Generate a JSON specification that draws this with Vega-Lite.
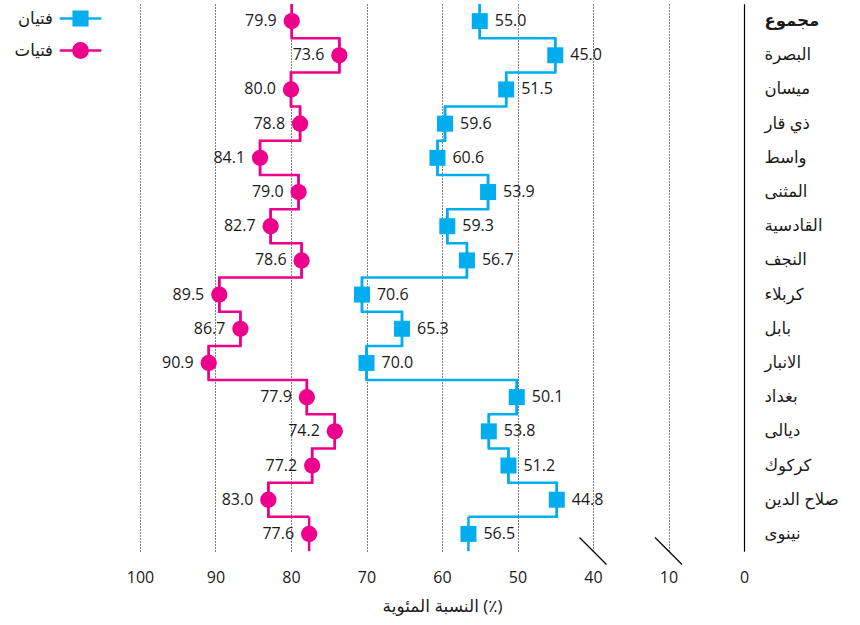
{
  "$schema": "https://vega.github.io/schema/vega-lite/v6.json",
  "width": 604,
  "height": 547,
  "autosize": {"type": "none"},
  "padding": {"left": 140, "top": 4, "right": 116, "bottom": 74},
  "config": {
    "font": "Open Sans, DejaVu Sans",
    "view": {"stroke": null},
    "text": {"font": "Open Sans, DejaVu Sans"}
  },
  "data": {
    "values": [
      {"region": "مجموع", "series": "فتيات", "value": 79.9},
      {"region": "البصرة", "series": "فتيات", "value": 73.6},
      {"region": "ميسان", "series": "فتيات", "value": 80.0},
      {"region": "ذي قار", "series": "فتيات", "value": 78.8},
      {"region": "واسط", "series": "فتيات", "value": 84.1},
      {"region": "المثنى", "series": "فتيات", "value": 79.0},
      {"region": "القادسية", "series": "فتيات", "value": 82.7},
      {"region": "النجف", "series": "فتيات", "value": 78.6},
      {"region": "كربلاء", "series": "فتيات", "value": 89.5},
      {"region": "بابل", "series": "فتيات", "value": 86.7},
      {"region": "الانبار", "series": "فتيات", "value": 90.9},
      {"region": "بغداد", "series": "فتيات", "value": 77.9},
      {"region": "ديالى", "series": "فتيات", "value": 74.2},
      {"region": "كركوك", "series": "فتيات", "value": 77.2},
      {"region": "صلاح الدين", "series": "فتيات", "value": 83.0},
      {"region": "نينوى", "series": "فتيات", "value": 77.6},
      {"region": "مجموع", "series": "فتيان", "value": 55.0},
      {"region": "البصرة", "series": "فتيان", "value": 45.0},
      {"region": "ميسان", "series": "فتيان", "value": 51.5},
      {"region": "ذي قار", "series": "فتيان", "value": 59.6},
      {"region": "واسط", "series": "فتيان", "value": 60.6},
      {"region": "المثنى", "series": "فتيان", "value": 53.9},
      {"region": "القادسية", "series": "فتيان", "value": 59.3},
      {"region": "النجف", "series": "فتيان", "value": 56.7},
      {"region": "كربلاء", "series": "فتيان", "value": 70.6},
      {"region": "بابل", "series": "فتيان", "value": 65.3},
      {"region": "الانبار", "series": "فتيان", "value": 70.0},
      {"region": "بغداد", "series": "فتيان", "value": 50.1},
      {"region": "ديالى", "series": "فتيان", "value": 53.8},
      {"region": "كركوك", "series": "فتيان", "value": 51.2},
      {"region": "صلاح الدين", "series": "فتيان", "value": 44.8},
      {"region": "نينوى", "series": "فتيان", "value": 56.5}
    ]
  },
  "encoding": {
    "y": {
      "field": "region",
      "type": "nominal",
      "sort": null,
      "scale": {
        "type": "band",
        "domain": ["مجموع", "البصرة", "ميسان", "ذي قار", "واسط", "المثنى", "القادسية", "النجف", "كربلاء", "بابل", "الانبار", "بغداد", "ديالى", "كركوك", "صلاح الدين", "نينوى"],
        "paddingInner": 0,
        "paddingOuter": 0
      },
      "axis": {
        "orient": "right",
        "title": null,
        "grid": false,
        "ticks": false,
        "domain": true,
        "domainColor": "#000",
        "domainWidth": 1.2,
        "labelPadding": 20,
        "labelAlign": "left",
        "labelFontSize": 16.5,
        "labelColor": "#1a1a1a",
        "labelFontWeight": {"condition": {"test": "datum.value === 'مجموع'", "value": "bold"}, "value": "normal"}
      }
    },
    "x": {
      "field": "value",
      "type": "quantitative",
      "scale": {"domain": [0, 10, 40, 100], "range": [604, 528.5, 453, 0], "nice": false, "zero": false},
      "axis": {
        "values": [0, 10, 40, 50, 60, 70, 80, 90, 100],
        "grid": true,
        "gridDash": [1, 2],
        "gridColor": "#000",
        "gridWidth": 1,
        "domain": false,
        "ticks": false,
        "labelFlush": false,
        "labelOverlap": false,
        "labelPadding": 18,
        "labelFontSize": 16,
        "labelColor": "#1a1a1a",
        "title": "النسبة المئوية (٪)",
        "titleFontSize": 17,
        "titleFontWeight": "normal",
        "titleColor": "#1a1a1a",
        "titlePadding": 13
      }
    },
    "color": {
      "field": "series",
      "type": "nominal",
      "scale": {"domain": ["فتيان", "فتيات"], "range": ["#00aeef", "#ec008c"]},
      "legend": {
        "orient": "none",
        "legendX": -69,
        "legendY": 5,
        "title": null,
        "padding": 0,
        "symbolSize": 256,
        "symbolStrokeWidth": 2.5,
        "symbolOpacity": 1,
        "labelAlign": "right",
        "labelOffset": -37,
        "labelFontSize": 16.5,
        "labelColor": "#1a1a1a",
        "rowPadding": 7,
        "encode": {
          "symbols": {
            "update": {
              "shape": {"signal": "datum.value === 'فتيان' ? 'M-2.6,0H2.6M-0.85,-0.85H0.85V0.85H-0.85Z' : 'M-2.6,0H2.6M0.9,0A0.9,0.9,0,1,1,-0.9,0A0.9,0.9,0,1,1,0.9,0Z'"},
              "fill": {"signal": "datum.value === 'فتيان' ? '#00aeef' : '#ec008c'"},
              "stroke": {"signal": "datum.value === 'فتيان' ? '#00aeef' : '#ec008c'"},
              "strokeWidth": {"value": 2.5}
            }
          }
        }
      }
    }
  },
  "layer": [
    {
      "mark": {"type": "line", "interpolate": "step-before", "strokeWidth": 2.5},
      "encoding": {
        "y": {"field": "region", "type": "nominal", "sort": null, "bandPosition": 0}
      }
    },
    {
      "mark": {"type": "tick", "orient": "vertical", "thickness": 2.5, "size": 34.4, "opacity": 1}
    },
    {
      "transform": [{"filter": "datum.series === 'فتيان'"}],
      "mark": {"type": "point", "shape": "square", "filled": true, "size": 256, "opacity": 1}
    },
    {
      "transform": [{"filter": "datum.series === 'فتيات'"}],
      "mark": {"type": "point", "shape": "circle", "filled": true, "size": 265, "opacity": 1}
    },
    {
      "transform": [{"filter": "datum.series === 'فتيات'"}],
      "mark": {"type": "text", "align": "right", "baseline": "middle", "dx": -15, "fontSize": 16},
      "encoding": {
        "text": {"field": "value", "type": "quantitative", "format": ".1f"},
        "color": {"value": "#1a1a1a"}
      }
    },
    {
      "transform": [{"filter": "datum.series === 'فتيان'"}],
      "mark": {"type": "text", "align": "left", "baseline": "middle", "dx": 15, "fontSize": 16},
      "encoding": {
        "text": {"field": "value", "type": "quantitative", "format": ".1f"},
        "color": {"value": "#1a1a1a"}
      }
    },
    {
      "data": {"values": [{"value": 40}, {"value": 10}]},
      "mark": {"type": "point", "shape": "M-1,-1L1,1", "size": 729, "filled": false, "strokeWidth": 1.2, "opacity": 1},
      "encoding": {
        "y": {"value": "height"},
        "color": {"value": "#000"}
      }
    }
  ]
}
